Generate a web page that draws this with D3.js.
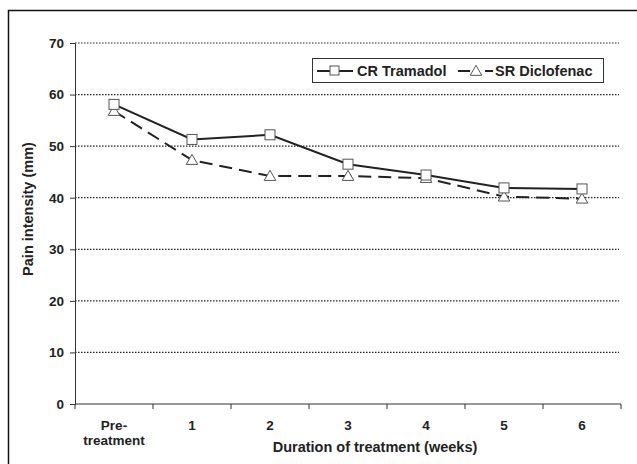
<!DOCTYPE html>
<html>
<head>
<meta charset="utf-8">
<script src="https://cdn.jsdelivr.net/npm/d3@7"></script>
<style>
  body { margin: 0; background: #fff; }
  text { font-family: Arial, "Liberation Sans", sans-serif; font-weight: bold; fill: #222; }
</style>
</head>
<body>
<div id="chart"></div>
<script>
// Categories and series values
const categories = ["Pre-treatment", "1", "2", "3", "4", "5", "6"];
const tramadol = [58.1, 51.3, 52.2, 46.5, 44.4, 41.9, 41.7];
const diclofenac = [56.8, 47.3, 44.2, 44.2, 43.8, 40.2, 39.8];
const yTicks = [0, 10, 20, 30, 40, 50, 60, 70];

const width = 637, height = 464;

const svg = d3.select("#chart").append("svg")
    .attr("width", width)
    .attr("height", height);

// Outer frame (cut off at right and bottom)
svg.append("rect")
    .attr("x", 8.5).attr("y", 10.5)
    .attr("width", width).attr("height", height)
    .attr("fill", "none").attr("stroke", "#111").attr("stroke-width", 1.5);

const x = d3.scaleBand()
    .domain(categories)
    .range([75, 621]);

const y = d3.scaleLinear()
    .domain([0, 70])
    .range([404, 43]);

// Gridlines (dotted)
svg.append("g")
    .selectAll("line")
    .data(yTicks.filter(d => d > 0))
    .join("line")
    .attr("x1", 75).attr("x2", 619)
    .attr("y1", d => y(d)).attr("y2", d => y(d))
    .attr("stroke", "#222")
    .attr("stroke-width", 1.2)
    .attr("stroke-dasharray", "1.5,1.5");

// Y axis
const yAxis = svg.append("g")
    .attr("transform", "translate(75,0)")
    .call(d3.axisLeft(y).tickValues(yTicks).tickSize(5).tickPadding(6));
yAxis.select(".domain").attr("stroke", "#333");
yAxis.selectAll(".tick line").attr("stroke", "#333");
yAxis.selectAll("text").style("font-size", "13.5px").style("font-weight", "bold").attr("fill", "#222");

// X axis: ticks sit on band edges
const xAxis = svg.append("g")
    .attr("transform", "translate(0,404)");
xAxis.append("line")
    .attr("x1", 75).attr("x2", 621)
    .attr("stroke", "#333");
const edges = categories.map(c => x(c)).concat([x.range()[1]]);
xAxis.selectAll(".edge")
    .data(edges)
    .join("line")
    .attr("class", "edge")
    .attr("x1", d => d).attr("x2", d => d)
    .attr("y1", 0).attr("y2", 5)
    .attr("stroke", "#333");

xAxis.selectAll(".lab")
    .data(categories)
    .join("text")
    .attr("class", "lab")
    .attr("text-anchor", "middle")
    .style("font-size", "13.5px")
    .each(function (c) {
        const t = d3.select(this);
        const parts = c === "Pre-treatment" ? ["Pre-", "treatment"] : [c];
        parts.forEach((p, i) => {
            t.append("tspan")
                .attr("x", x(c) + x.bandwidth() / 2)
                .attr("y", 26 + i * 15)
                .text(p);
        });
    });

// Axis titles
svg.append("text")
    .attr("x", 375).attr("y", 452)
    .attr("text-anchor", "middle")
    .style("font-size", "14.5px")
    .text("Duration of treatment (weeks)");

svg.append("text")
    .attr("transform", "translate(33,209) rotate(-90)")
    .attr("text-anchor", "middle")
    .style("font-size", "14.5px")
    .text("Pain intensity (mm)");

const cx = c => x(c) + x.bandwidth() / 2;
const line = d3.line()
    .x((d, i) => cx(categories[i]))
    .y(d => y(d));

// Series lines
svg.append("path")
    .datum(diclofenac)
    .attr("d", line)
    .attr("fill", "none")
    .attr("stroke", "#222")
    .attr("stroke-width", 2)
    .attr("stroke-dasharray", "13,7");

svg.append("path")
    .datum(tramadol)
    .attr("d", line)
    .attr("fill", "none")
    .attr("stroke", "#222")
    .attr("stroke-width", 2);

// Markers
const tri = d3.symbol().type(d3.symbolTriangle).size(58);
svg.append("g")
    .selectAll("path")
    .data(diclofenac)
    .join("path")
    .attr("d", tri)
    .attr("transform", (d, i) => `translate(${cx(categories[i])},${y(d) + 1})`)
    .attr("fill", "#fff")
    .attr("stroke", "#555")
    .attr("stroke-width", 1);

svg.append("g")
    .selectAll("rect")
    .data(tramadol)
    .join("rect")
    .attr("x", (d, i) => cx(categories[i]) - 5)
    .attr("y", d => y(d) - 5)
    .attr("width", 10).attr("height", 10)
    .attr("fill", "#fff")
    .attr("stroke", "#555")
    .attr("stroke-width", 1);

// Legend
const legend = svg.append("g");
legend.append("rect")
    .attr("x", 312.5).attr("y", 58.5)
    .attr("width", 291).attr("height", 24)
    .attr("fill", "#fff").attr("stroke", "#333");

legend.append("line")
    .attr("x1", 317).attr("x2", 353).attr("y1", 71).attr("y2", 71)
    .attr("stroke", "#222").attr("stroke-width", 2);
legend.append("rect")
    .attr("x", 330).attr("y", 66).attr("width", 9).attr("height", 9)
    .attr("fill", "#fff").attr("stroke", "#555");
legend.append("text")
    .attr("x", 357).attr("y", 76)
    .style("font-size", "14.5px")
    .text("CR Tramadol");

legend.append("line")
    .attr("x1", 458).attr("x2", 470).attr("y1", 71).attr("y2", 71)
    .attr("stroke", "#222").attr("stroke-width", 2);
legend.append("line")
    .attr("x1", 485).attr("x2", 493).attr("y1", 71).attr("y2", 71)
    .attr("stroke", "#222").attr("stroke-width", 2);
legend.append("path")
    .attr("d", tri)
    .attr("transform", "translate(476,72)")
    .attr("fill", "#fff").attr("stroke", "#555");
legend.append("text")
    .attr("x", 495).attr("y", 76)
    .style("font-size", "14.5px")
    .text("SR Diclofenac");
</script>
</body>
</html>
